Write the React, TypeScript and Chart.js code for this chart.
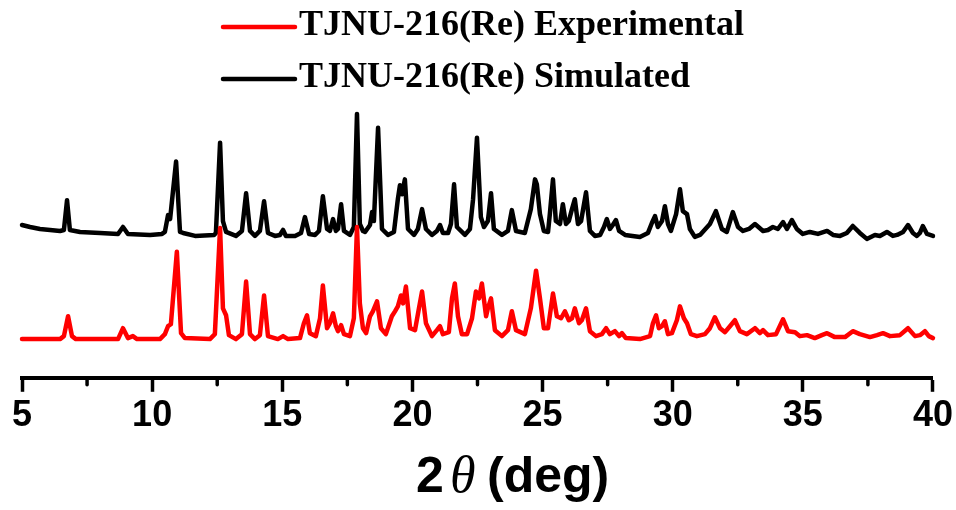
import React, { useEffect, useRef } from "react";
import { Chart, registerables } from "chart.js";

Chart.register(...registerables);

// ---- data (2θ in degrees, intensity in offset arbitrary units) ----
const expLabel = "TJNU-216(Re) Experimental";
const simLabel = "TJNU-216(Re) Simulated";

const expTheta = [5.00,6.46,6.61,6.77,6.92,7.07,8.69,8.88,9.07,9.26,9.42,10.30,10.49,10.61,10.72,10.95,11.11,11.26,12.22,12.41,12.61,12.72,12.84,12.95,13.22,13.45,13.61,13.76,13.95,14.14,14.30,14.45,14.83,15.03,15.22,15.68,15.83,15.95,16.06,16.29,16.45,16.56,16.72,16.83,16.95,17.06,17.14,17.26,17.37,17.60,17.75,17.87,17.98,18.10,18.22,18.37,18.48,18.64,18.79,18.98,19.21,19.33,19.44,19.56,19.64,19.75,19.91,20.10,20.25,20.37,20.52,20.75,20.94,21.06,21.17,21.40,21.52,21.63,21.75,21.90,22.10,22.29,22.44,22.56,22.67,22.83,22.90,23.02,23.17,23.44,23.67,23.82,23.98,24.32,24.55,24.75,24.90,25.05,25.21,25.40,25.55,25.71,25.86,26.01,26.13,26.24,26.40,26.51,26.67,26.82,27.05,27.28,27.44,27.59,27.78,27.94,28.05,28.20,28.74,29.13,29.24,29.36,29.47,29.59,29.70,29.82,29.97,30.16,30.28,30.43,30.55,30.70,30.93,31.24,31.43,31.62,31.82,32.01,32.20,32.39,32.58,32.85,33.16,33.35,33.47,33.66,33.97,34.24,34.43,34.70,34.89,35.16,35.46,35.73,35.93,36.23,36.62,36.92,37.19,37.58,37.85,38.08,38.35,38.73,39.04,39.31,39.50,39.69,39.84,40.00];
const expIntensity = [0,0,3,23,3,0,0,11,1,3,0,0,5,13,15,88,6,1,0,5,112,31,24,4,0,5,58,5,0,4,44,3,0,3,0,1,16,24,6,3,21,54,11,16,26,13,8,14,5,3,21,113,36,11,6,23,28,38,11,5,23,28,33,44,36,53,11,9,31,48,16,3,9,13,5,7,41,56,23,5,5,21,48,41,56,23,31,41,9,3,9,28,9,5,31,69,41,11,11,46,23,21,28,19,21,31,16,19,31,8,3,5,11,5,8,3,6,1,0,3,16,24,11,13,18,5,6,19,33,21,16,5,3,5,11,22,11,7,13,19,8,5,11,6,9,4,5,20,8,7,3,4,1,4,6,2,2,8,5,2,4,6,3,4,11,3,4,8,3,1];

const simTheta = [5.00,5.31,5.69,6.08,6.46,6.61,6.73,6.84,7.23,8.00,8.69,8.88,9.07,9.92,10.38,10.49,10.61,10.69,10.92,11.07,11.19,11.65,12.38,12.45,12.61,12.72,12.84,13.22,13.45,13.61,13.76,13.95,14.14,14.30,14.45,14.72,14.91,15.03,15.14,15.49,15.72,15.87,16.03,16.26,16.41,16.56,16.72,16.83,16.95,17.06,17.14,17.26,17.37,17.60,17.75,17.87,17.98,18.10,18.18,18.37,18.45,18.52,18.68,18.83,19.06,19.29,19.44,19.52,19.60,19.71,19.83,20.06,20.21,20.37,20.52,20.75,20.94,21.06,21.17,21.37,21.48,21.60,21.71,22.02,22.21,22.33,22.48,22.63,22.75,22.90,23.02,23.13,23.44,23.67,23.82,23.98,24.32,24.55,24.71,24.78,24.90,25.05,25.21,25.28,25.40,25.51,25.67,25.78,25.90,26.01,26.13,26.24,26.36,26.48,26.67,26.82,27.01,27.21,27.36,27.47,27.59,27.70,27.82,27.94,28.17,28.74,29.05,29.20,29.32,29.43,29.59,29.70,29.82,29.93,30.13,30.28,30.39,30.55,30.66,30.85,31.05,31.43,31.66,31.89,32.08,32.31,32.51,32.70,32.93,33.16,33.47,33.66,33.85,34.04,34.24,34.39,34.58,34.77,35.00,35.27,35.58,35.93,36.16,36.43,36.69,36.92,37.19,37.46,37.77,37.96,38.23,38.46,38.62,38.85,39.04,39.23,39.38,39.50,39.61,39.77,40.00];
const simIntensity = [115,113,111,110,109,110,140,110,108,107,106,113,106,105,106,108,125,121,179,108,107,104,105,107,198,119,108,104,109,147,109,104,109,139,107,104,105,110,104,104,107,123,106,105,109,144,111,109,121,109,111,136,109,105,113,227,116,109,108,115,128,119,213,111,105,108,141,155,146,161,111,105,111,131,111,105,109,115,107,107,116,156,113,105,111,141,203,123,113,119,147,111,105,109,130,109,107,131,161,156,126,109,108,126,161,119,116,136,116,119,131,141,116,119,148,109,104,105,113,121,111,115,120,109,105,103,107,117,124,113,119,134,116,109,126,151,129,126,111,103,105,116,129,111,108,128,113,109,111,116,109,110,113,111,118,111,120,111,106,108,106,109,105,104,107,114,107,101,105,104,108,104,105,108,115,107,104,107,114,106,104];

const majorTicks = [5, 10, 15, 20, 25, 30, 35, 40];
const minorTicks = [7.5, 12.5, 17.5, 22.5, 27.5, 32.5, 37.5];
const xMin = 5;
const xMax = 40;
const yMin = -39;
const yMax = 241;

const toPoints = (xs: number[], ys: number[]) => xs.map((x, i) => ({ x, y: ys[i] }));

const overlayPlugin = {
  id: "overlay",
  afterDraw(chart: any) {
    const ctx = chart.ctx;
    const xs = chart.scales.x;
    ctx.save();
    // minor ticks
    ctx.strokeStyle = "#000";
    ctx.lineWidth = 3.5;
    ctx.lineCap = "round";
    minorTicks.forEach((v) => {
      const px = xs.getPixelForValue(v);
      ctx.beginPath();
      ctx.moveTo(px, xs.top);
      ctx.lineTo(px, xs.top + 7);
      ctx.stroke();
    });
    // legend
    const ds = chart.data.datasets;
    const rows = [27, 79];
    ds.forEach((d: any, i: number) => {
      const y = rows[i];
      ctx.strokeStyle = d.borderColor;
      ctx.lineWidth = 4.5;
      ctx.lineCap = "round";
      ctx.beginPath();
      ctx.moveTo(223, y);
      ctx.lineTo(295, y);
      ctx.stroke();
      ctx.fillStyle = "#000";
      ctx.font = "bold 36px 'Liberation Serif', 'Times New Roman', serif";
      ctx.textBaseline = "middle";
      ctx.textAlign = "left";
      ctx.fillText(d.label, 299, y - 1);
    });
    // axis title 2θ(deg)
    ctx.textBaseline = "alphabetic";
    ctx.fillStyle = "#000";
    ctx.font = "bold 50px 'Liberation Sans', Arial, sans-serif";
    ctx.fillText("2", 416, 492);
    ctx.font = "italic 52px 'Liberation Serif', 'Times New Roman', serif";
    ctx.fillText("θ", 450, 492);
    ctx.font = "bold 50px 'Liberation Sans', Arial, sans-serif";
    ctx.fillText("(deg)", 487, 492);
    ctx.restore();
  },
};

export default function App() {
  const ref = useRef<HTMLCanvasElement | null>(null);
  useEffect(() => {
    if (!ref.current) return;
    const chart = new Chart(ref.current, {
      type: "line",
      data: {
        datasets: [
          {
            label: expLabel,
            data: toPoints(expTheta, expIntensity),
            borderColor: "#ff0000",
            borderWidth: 4.5,
            pointRadius: 0,
            tension: 0,
            borderJoinStyle: "round",
            borderCapStyle: "round",
            clip: false as any,
          },
          {
            label: simLabel,
            data: toPoints(simTheta, simIntensity),
            borderColor: "#000000",
            borderWidth: 4.5,
            pointRadius: 0,
            tension: 0,
            borderJoinStyle: "round",
            borderCapStyle: "round",
            clip: false as any,
          },
        ],
      },
      options: {
        animation: false,
        responsive: true,
        maintainAspectRatio: false,
        layout: { padding: { top: 100, left: 22, right: 23, bottom: 69 } },
        plugins: { legend: { display: false }, tooltip: { enabled: false } },
        scales: {
          x: {
            type: "linear",
            min: xMin,
            max: xMax,
            afterBuildTicks: (axis: any) => {
              axis.ticks = majorTicks.map((v) => ({ value: v }));
            },
            ticks: {
              autoSkip: false,
              maxRotation: 0,
              padding: 3,
              color: "#000",
              font: { family: "'Liberation Sans', Arial, sans-serif", size: 36, weight: "bold" },
            },
            grid: {
              display: true,
              drawOnChartArea: false,
              drawTicks: true,
              tickLength: 14,
              tickWidth: 3.5,
              tickColor: "#000",
              color: "#000",
            },
            border: { display: true, color: "#000", width: 4 },
          },
          y: {
            display: false,
            min: yMin,
            max: yMax,
          },
        },
      },
      plugins: [overlayPlugin],
    });
    return () => chart.destroy();
  }, []);
  return (
    <div style={{ position: "fixed", left: 0, top: 0, width: 956, height: 510, background: "#fff" }}>
      <canvas ref={ref} />
    </div>
  );
}
